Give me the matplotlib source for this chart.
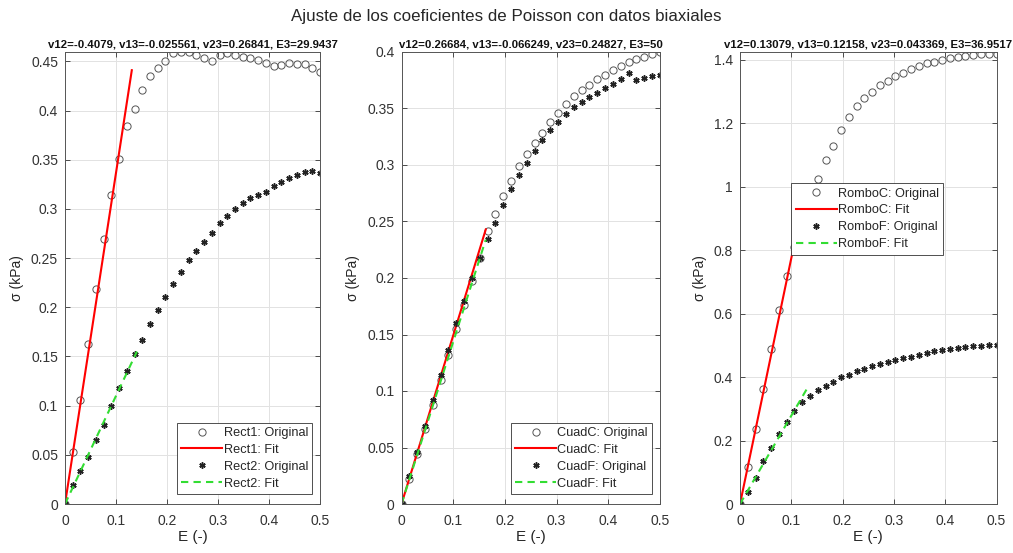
import matplotlib
matplotlib.use("Agg")
import matplotlib.pyplot as plt
from matplotlib.ticker import FuncFormatter

plt.rcParams['font.family'] = ['Liberation Sans', 'DejaVu Sans']

# shared strain axis (34 samples from 0 to 0.5)
strain = [0.0, 0.0152, 0.0303, 0.0455, 0.0606, 0.0758, 0.0909, 0.1061, 0.1212, 0.1364,
          0.1515, 0.1667, 0.1818, 0.1970, 0.2121, 0.2273, 0.2424, 0.2576, 0.2727, 0.2879,
          0.3030, 0.3182, 0.3333, 0.3485, 0.3636, 0.3788, 0.3939, 0.4091, 0.4242, 0.4394,
          0.4545, 0.4697, 0.4848, 0.5]

# stress (kPa) for each specimen
rect1 = [0, .053, .106, .163, .219, .269, .314, .351, .384, .402, .421, .435, .443, .450,
         .458, .459, .4595, .456, .453, .450, .456, .458, .456, .454, .453, .451, .448,
         .445, .446, .448, .447, .447, .443, .439]
rect2 = [0, .0196, .034, .048, .0646, .0805, .0998, .118, .1356, .1526, .1668, .183, .197,
         .210, .2233, .2358, .248, .2575, .266, .276, .2853, .2927, .2998, .3056, .3107,
         .314, .3174, .323, .3275, .331, .3343, .3377, .3387, .3367]
cuadc = [0, .022, .044, .066, .088, .110, .132, .155, .176, .197, .218, .2416, .257, .2725,
         .2857, .299, .310, .3195, .328, .338, .346, .354, .361, .366, .371, .376, .380,
         .384, .388, .391, .394, .396, .398, .400]
cuadf = [0, .0247, .046, .0688, .0917, .1138, .1364, .160, .180, .200, .2175, .2343, .249,
         .2646, .279, .291, .302, .3128, .322, .331, .338, .345, .351, .356, .360, .364,
         .368, .372, .376, .381, .375, .377, .379, .380]
romboc = [0, .118, .236, .362, .49, .613, .718, .81, .90, .97, 1.025, 1.084, 1.13, 1.18,
          1.22, 1.255, 1.28, 1.30, 1.32, 1.335, 1.35, 1.36, 1.37, 1.38, 1.39, 1.395, 1.40,
          1.405, 1.41, 1.412, 1.415, 1.418, 1.418, 1.418]
rombof = [0, .039, .081, .134, .176, .22, .26, .294, .32, .341, .358, .373, .386, .399,
          .407, .418, .425, .434, .441, .448, .455, .46, .465, .47, .476, .481, .484, .488,
          .492, .495, .497, .499, .501, .502]

# linear fits (start and end points)
rect1_fit = ([0, 0.131], [0, 0.441])
rect2_fit = ([0, 0.141], [0, 0.155])
cuadc_fit = ([0, 0.163], [0, 0.243])
cuadf_fit = ([0, 0.163], [0, 0.234])
romboc_fit = ([0, 0.12], [0, 0.93])
rombof_fit = ([0, 0.13], [0, 0.362])

titles = ["v12=-0.4079, v13=-0.025561, v23=0.26841, E3=29.9437",
          "v12=0.26684, v13=-0.066249, v23=0.24827, E3=50",
          "v12=0.13079, v13=0.12158, v23=0.043369, E3=36.9517"]
names = [("Rect1", "Rect2"), ("CuadC", "CuadF"), ("RomboC", "RomboF")]
yticks = [[0, .05, .1, .15, .2, .25, .3, .35, .4, .45],
          [0, .05, .1, .15, .2, .25, .3, .35, .4],
          [0, .2, .4, .6, .8, 1, 1.2, 1.4]]
ytops = [0.4595, 0.4, 1.425]

panels = [(rect1, rect1_fit, rect2, rect2_fit),
          (cuadc, cuadc_fit, cuadf, cuadf_fit),
          (romboc, romboc_fit, rombof, rombof_fit)]

W, H = 1013, 553
fig = plt.figure(figsize=(W / 100, H / 100), dpi=100)
lefts = [65, 401.5, 740]
widths = [255, 258.5, 256.5]
top, bottom = 52, 504

gfmt = FuncFormatter(lambda v, p: ('%g' % round(v, 4)))

for k in range(3):
    ax = fig.add_axes([lefts[k] / W, (H - bottom) / H, widths[k] / W, (bottom - top) / H])
    c_data, c_fit, f_data, f_fit = panels[k]
    nc, nf = names[k]

    ax.plot(strain, c_data, linestyle='none', marker='o', markersize=5.2,
            markerfacecolor='none', markeredgecolor='#555555', markeredgewidth=0.7,
            label=nc + ": Original")
    ax.plot(c_fit[0], c_fit[1], color='#ff0000', lw=1.5, label=nc + ": Fit")
    ax.plot(strain, f_data, linestyle='none', marker=(6, 2, 0), markersize=4.5,
            markeredgecolor='#222222', markeredgewidth=1.1,
            label=nf + ": Original")
    ax.plot(f_fit[0], f_fit[1], color='#33dd33', lw=1.5, linestyle=(0, (3.5, 2.5)),
            label=nf + ": Fit")

    ax.set_xlim(0, 0.5)
    ax.set_ylim(0, ytops[k])
    ax.set_xticks([0, 0.1, 0.2, 0.3, 0.4, 0.5])
    ax.set_yticks(yticks[k])
    ax.xaxis.set_major_formatter(gfmt)
    ax.yaxis.set_major_formatter(gfmt)
    ax.grid(True, color='#e2e2e2', lw=0.7)
    ax.set_axisbelow(True)
    ax.tick_params(direction='in', length=3.5, width=0.6, top=True, right=True,
                   labelsize=10, colors='#333333')
    ax.tick_params(axis='x', pad=7)
    ax.tick_params(axis='y', pad=5)
    for sp in ax.spines.values():
        sp.set_color('#555555')
        sp.set_linewidth(0.7)

    ax.set_xlabel("E (-)", fontsize=11, color='#262626', labelpad=2)
    ax.set_ylabel("σ (kPa)", fontsize=10, color='#262626', labelpad=5)
    ax.set_title(titles[k], fontsize=8.2, fontweight='bold', color='#111111', pad=3)

    if k < 2:
        leg = ax.legend(loc='lower right', bbox_to_anchor=(0.97, 0.022), fontsize=9.2,
                        handlelength=3.2, handletextpad=0.1, labelspacing=0.38,
                        borderpad=0.35, borderaxespad=0, fancybox=False, framealpha=1)
    else:
        leg = ax.legend(loc='upper left', bbox_to_anchor=(0.2, 0.71), fontsize=9.2,
                        handlelength=3.2, handletextpad=0.1, labelspacing=0.38,
                        borderpad=0.35, borderaxespad=0, fancybox=False, framealpha=1)
    leg.get_frame().set_edgecolor('#333333')
    leg.get_frame().set_linewidth(0.6)
    for t in leg.get_texts():
        t.set_color('#262626')

fig.suptitle("Ajuste de los coeficientes de Poisson con datos biaxiales",
             x=0.5, y=1 - 17 / H, va='center', fontsize=12.2, color='#262626')

fig.savefig("out.png", dpi=100)
